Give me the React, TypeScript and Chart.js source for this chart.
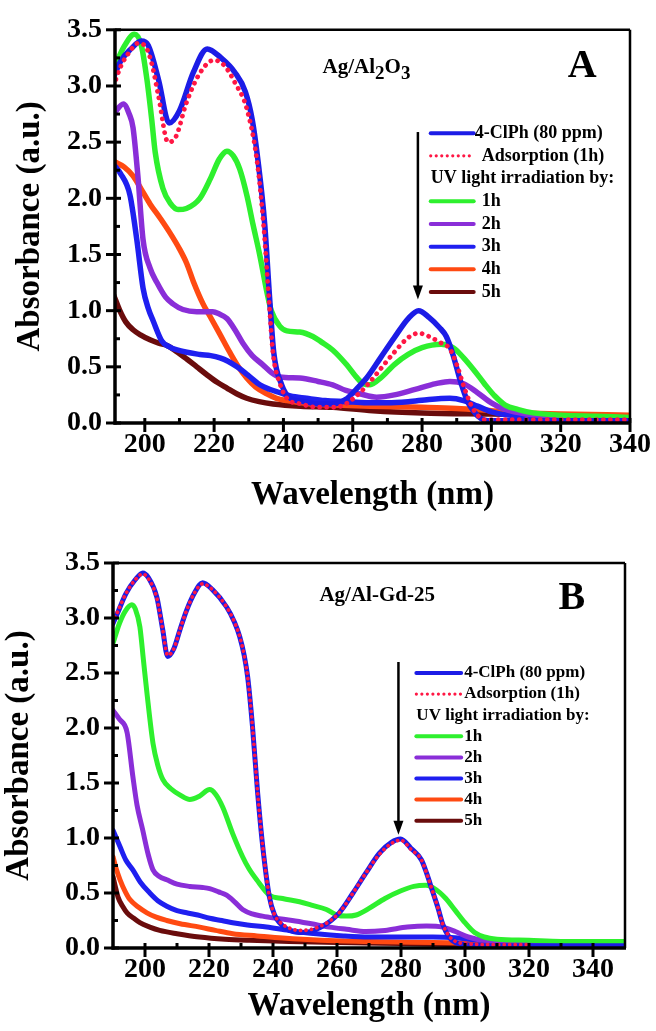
import React, { useEffect, useRef } from 'react';
import { Chart, registerables } from 'chart.js';

Chart.register(...registerables);

const SERIF = '"Liberation Serif", "Times New Roman", serif';

// ---------- colours ----------
const C_CLPH = '#1c1ce6';
const C_ADS = '#ff1744';
const C_H1 = '#2ef02e';
const C_H2 = '#8a2ed8';
const C_H3 = '#1f1ff0';
const C_H4 = '#ff4a12';
const C_H5 = '#6a0c0c';

// ---------- axis ticks ----------
const xTicks = [200, 220, 240, 260, 280, 300, 320, 340];
const yTicks = [0, 0.5, 1.0, 1.5, 2.0, 2.5, 3.0, 3.5];

// ---------- Panel A : Ag/Al2O3 ----------
const aClphX = [191, 193, 196, 199, 201, 204, 207, 210, 214, 218, 222, 226, 229, 231, 232.6, 234.6, 236, 237.2, 239.5, 242, 246, 250, 254, 258, 261, 264, 268, 272, 276, 279, 282, 285, 287, 289, 291, 293, 295, 297, 299, 310, 320, 330, 340];
const aClphY = [3.08, 3.22, 3.33, 3.40, 3.36, 3.05, 2.67, 2.78, 3.12, 3.33, 3.25, 3.12, 2.95, 2.70, 2.35, 1.77, 1.12, 0.63, 0.34, 0.22, 0.19, 0.17, 0.17, 0.21, 0.30, 0.40, 0.58, 0.76, 0.93, 1.00, 0.94, 0.85, 0.77, 0.60, 0.38, 0.20, 0.10, 0.04, 0.02, 0.02, 0.02, 0.02, 0.02];

const aAdsX = [191, 193, 195.5, 198, 200, 202, 204, 206.7, 209, 212, 216, 220, 223, 226, 229.4, 232.3, 234.3, 235.8, 237, 239, 241, 245, 250, 255, 258, 261, 264, 268, 272, 276, 279, 282, 285, 288, 290, 292, 294, 296, 298, 300, 320, 340];
const aAdsY = [3.00, 3.17, 3.30, 3.38, 3.36, 3.20, 2.90, 2.50, 2.55, 2.85, 3.12, 3.23, 3.18, 3.03, 2.80, 2.35, 1.75, 1.10, 0.62, 0.35, 0.22, 0.17, 0.14, 0.14, 0.17, 0.24, 0.33, 0.48, 0.63, 0.76, 0.80, 0.77, 0.72, 0.66, 0.52, 0.33, 0.17, 0.07, 0.03, 0.03, 0.03, 0.03];

const aH1X = [191, 194, 197, 199, 200.6, 202, 203, 205.2, 207.5, 209.6, 212, 215.9, 219, 221.5, 223.7, 225.5, 227.4, 229.5, 231.2, 233.2, 235.2, 236.5, 239, 241, 244.7, 248.5, 251, 254.2, 258.2, 261, 263, 265, 268, 272, 276, 280, 285.5, 289, 292, 295, 298, 301, 304, 307.8, 312, 320, 330, 340];
const aH1Y = [3.15, 3.35, 3.46, 3.36, 3.06, 2.70, 2.41, 2.09, 1.95, 1.90, 1.91, 2.00, 2.18, 2.35, 2.42, 2.38, 2.26, 2.02, 1.77, 1.49, 1.17, 1.00, 0.86, 0.82, 0.81, 0.77, 0.72, 0.65, 0.52, 0.41, 0.35, 0.34, 0.40, 0.52, 0.61, 0.67, 0.70, 0.67, 0.58, 0.47, 0.35, 0.24, 0.16, 0.12, 0.09, 0.07, 0.06, 0.05];

const aH2X = [191, 193.8, 195.5, 196.6, 198, 199.5, 201.5, 203.5, 206, 208.1, 211, 215, 219.6, 221.5, 223.7, 226, 228.3, 231, 234, 236.5, 239, 244.7, 250, 254.2, 258, 262, 266.9, 272, 278, 284, 288, 292, 296, 300, 304, 310, 320, 340];
const aH2Y = [2.75, 2.84, 2.75, 2.63, 2.20, 1.63, 1.38, 1.25, 1.12, 1.06, 1.01, 0.99, 0.99, 0.97, 0.93, 0.83, 0.71, 0.60, 0.52, 0.45, 0.41, 0.40, 0.37, 0.34, 0.29, 0.26, 0.23, 0.25, 0.30, 0.35, 0.37, 0.35, 0.27, 0.18, 0.12, 0.08, 0.06, 0.04];

const aH3X = [191, 193, 195.7, 197.7, 199.5, 201, 202.4, 204.9, 207, 209.3, 215.9, 219, 221.7, 224, 226.6, 230, 233.2, 236, 239, 242, 246.7, 252, 258, 264, 270, 276, 282, 288, 292, 296, 300, 305, 312, 320, 340];
const aH3Y = [2.30, 2.22, 2.03, 1.63, 1.20, 1.02, 0.91, 0.73, 0.68, 0.65, 0.61, 0.60, 0.58, 0.55, 0.50, 0.42, 0.34, 0.30, 0.27, 0.24, 0.22, 0.20, 0.19, 0.18, 0.18, 0.19, 0.21, 0.22, 0.20, 0.15, 0.10, 0.07, 0.05, 0.04, 0.03];

const aH4X = [191, 194, 196.6, 199, 201.5, 204.5, 207.3, 210, 212.1, 214, 216.8, 218.8, 221.5, 224.5, 227, 229.4, 232, 235.2, 238, 241, 248, 255, 265, 280, 290, 300, 310, 320, 340];
const aH4Y = [2.33, 2.28, 2.20, 2.08, 1.95, 1.82, 1.69, 1.55, 1.42, 1.26, 1.06, 0.95, 0.80, 0.63, 0.50, 0.40, 0.32, 0.26, 0.22, 0.20, 0.17, 0.16, 0.15, 0.14, 0.13, 0.11, 0.09, 0.08, 0.07];

const aH5X = [191, 192.8, 194.5, 196.6, 199, 201.5, 204, 206.4, 209, 212.1, 215, 217.9, 221, 223.7, 226.5, 229.4, 233, 237, 245, 254.2, 265.8, 280, 300, 320, 340];
const aH5Y = [1.14, 1.00, 0.90, 0.83, 0.78, 0.74, 0.71, 0.69, 0.64, 0.57, 0.50, 0.43, 0.36, 0.31, 0.26, 0.22, 0.19, 0.17, 0.15, 0.14, 0.11, 0.09, 0.08, 0.07, 0.06];

// ---------- Panel B : Ag/Al-Gd-25 ----------
const bClphX = [190, 191.5, 194, 197, 199.3, 201, 203.7, 205.5, 207.1, 209, 211, 213, 215.5, 218, 221, 225.5, 228, 229.6, 231, 232.1, 233.6, 235.2, 236.8, 238.9, 240.5, 242, 246.1, 249.2, 255, 260.7, 265, 269, 273.2, 277, 279.9, 283, 286.4, 288, 289.7, 291.5, 293, 295, 297, 300, 310, 320, 350];
const bClphY = [2.95, 3.05, 3.22, 3.35, 3.41, 3.37, 3.19, 2.90, 2.65, 2.72, 2.90, 3.07, 3.23, 3.32, 3.26, 3.10, 2.96, 2.83, 2.66, 2.46, 2.01, 1.41, 0.92, 0.46, 0.30, 0.23, 0.15, 0.14, 0.19, 0.32, 0.50, 0.68, 0.86, 0.96, 0.99, 0.91, 0.80, 0.68, 0.53, 0.37, 0.22, 0.10, 0.05, 0.03, 0.02, 0.02, 0.02];

const bAdsX = [190, 191.5, 194, 197, 199.3, 201, 203.7, 205.5, 207.1, 209, 211, 213, 215.5, 218, 221, 225.5, 228, 229.6, 231, 232.1, 233.6, 235.2, 236.8, 238.9, 240.5, 242, 246.1, 249.2, 255, 260.7, 265, 269, 273.2, 277, 279.9, 283, 286.4, 288, 289.7, 291.5, 293, 295, 297, 300, 310, 320];
const bAdsY = [2.96, 3.06, 3.22, 3.35, 3.40, 3.36, 3.18, 2.90, 2.66, 2.72, 2.90, 3.07, 3.23, 3.31, 3.26, 3.10, 2.96, 2.83, 2.66, 2.46, 2.01, 1.41, 0.92, 0.46, 0.30, 0.24, 0.17, 0.16, 0.20, 0.32, 0.50, 0.68, 0.85, 0.95, 0.98, 0.90, 0.80, 0.68, 0.53, 0.37, 0.22, 0.11, 0.06, 0.04, 0.03, 0.03];

const bH1X = [190, 192, 194, 195.9, 197, 198.4, 199.5, 200.6, 202.5, 204, 205.6, 208, 211, 214, 217, 220.2, 222, 224.3, 227.4, 230.5, 232.5, 234.9, 238.9, 243, 248.3, 252, 256.7, 260, 262.9, 266, 270, 275, 280, 284, 287.8, 291, 294, 297, 300, 303, 306, 310, 320, 330, 350];
const bH1Y = [2.77, 2.95, 3.07, 3.12, 3.08, 2.92, 2.62, 2.32, 1.86, 1.66, 1.53, 1.45, 1.39, 1.35, 1.38, 1.44, 1.40, 1.28, 1.04, 0.83, 0.72, 0.62, 0.48, 0.45, 0.42, 0.39, 0.35, 0.30, 0.29, 0.30, 0.36, 0.45, 0.52, 0.56, 0.57, 0.53, 0.45, 0.34, 0.23, 0.14, 0.10, 0.08, 0.07, 0.06, 0.06];

const bH2X = [190, 192, 194.4, 196.2, 197.5, 199.3, 201, 202.5, 204.5, 206.8, 210, 214, 218, 220.2, 223, 225.5, 228, 230.5, 233.5, 236.7, 241, 246, 252, 257.6, 263, 269, 275, 282, 288, 293, 297, 301, 306, 315, 330, 350];
const bH2Y = [2.16, 2.08, 1.96, 1.56, 1.30, 1.07, 0.85, 0.71, 0.65, 0.62, 0.58, 0.56, 0.55, 0.54, 0.51, 0.48, 0.42, 0.35, 0.31, 0.29, 0.27, 0.25, 0.22, 0.19, 0.17, 0.15, 0.16, 0.19, 0.20, 0.19, 0.15, 0.10, 0.07, 0.06, 0.05, 0.05];

const bH3X = [190, 192.2, 194, 196.2, 198.5, 201.5, 204, 206.8, 210, 213, 216.5, 220.2, 224, 227.4, 232, 238, 245, 253.6, 262, 270, 280, 290, 298, 305, 315, 330, 350];
const bH3Y = [1.07, 0.92, 0.80, 0.71, 0.60, 0.50, 0.43, 0.38, 0.34, 0.32, 0.30, 0.27, 0.25, 0.23, 0.21, 0.19, 0.16, 0.13, 0.11, 0.10, 0.10, 0.10, 0.09, 0.07, 0.06, 0.05, 0.05];

const bH4X = [190, 191, 192.2, 193.7, 195.3, 198, 200.6, 203.5, 206.8, 211, 217.1, 222, 227.4, 235, 243, 255, 270, 290, 310, 330, 350];
const bH4Y = [0.83, 0.72, 0.62, 0.52, 0.44, 0.37, 0.32, 0.28, 0.25, 0.22, 0.19, 0.16, 0.13, 0.11, 0.09, 0.07, 0.06, 0.05, 0.04, 0.03, 0.03];

const bH5X = [190, 190.8, 191.6, 193, 194.4, 196.5, 198.4, 201.5, 204.6, 210, 217, 225, 232.7, 245, 260, 280, 300, 325, 350];
const bH5Y = [0.65, 0.55, 0.46, 0.38, 0.32, 0.27, 0.23, 0.19, 0.16, 0.13, 0.10, 0.08, 0.07, 0.06, 0.05, 0.04, 0.03, 0.02, 0.02];

const seriesLabels = ['4-ClPh (80 ppm)', 'Adsorption (1h)', '1h', '2h', '3h', '4h', '5h'];
const legendHeader = 'UV light irradiation by:';

type Series = { label: string; x: number[]; y: number[]; color: string; dotted?: boolean };

const seriesA: Series[] = [
  { label: seriesLabels[0], x: aClphX, y: aClphY, color: C_CLPH },
  { label: seriesLabels[1], x: aAdsX, y: aAdsY, color: C_ADS, dotted: true },
  { label: seriesLabels[2], x: aH1X, y: aH1Y, color: C_H1 },
  { label: seriesLabels[3], x: aH2X, y: aH2Y, color: C_H2 },
  { label: seriesLabels[4], x: aH3X, y: aH3Y, color: C_H3 },
  { label: seriesLabels[5], x: aH4X, y: aH4Y, color: C_H4 },
  { label: seriesLabels[6], x: aH5X, y: aH5Y, color: C_H5 },
];

const seriesB: Series[] = [
  { label: seriesLabels[0], x: bClphX, y: bClphY, color: C_CLPH },
  { label: seriesLabels[1], x: bAdsX, y: bAdsY, color: C_ADS, dotted: true },
  { label: seriesLabels[2], x: bH1X, y: bH1Y, color: C_H1 },
  { label: seriesLabels[3], x: bH2X, y: bH2Y, color: C_H2 },
  { label: seriesLabels[4], x: bH3X, y: bH3Y, color: C_H3 },
  { label: seriesLabels[5], x: bH4X, y: bH4Y, color: C_H4 },
  { label: seriesLabels[6], x: bH5X, y: bH5Y, color: C_H5 },
];

const decorPlugin = {
  id: 'decor',
  afterDatasetsDraw(chart: any, _args: any, o: any) {
    const { ctx, chartArea: ca, scales } = chart;
    const xs = scales.x;
    const ys = scales.y;
    const seg = (x1: number, y1: number, x2: number, y2: number) => {
      ctx.beginPath();
      ctx.moveTo(x1, y1);
      ctx.lineTo(x2, y2);
      ctx.stroke();
    };
    ctx.save();
    ctx.strokeStyle = '#000';
    ctx.fillStyle = '#000';
    ctx.lineCap = 'butt';
    // frame
    ctx.lineWidth = 2.5;
    seg(ca.left, ca.top, ca.right, ca.top);
    seg(ca.right, ca.top, ca.right, ca.bottom);
    ctx.lineWidth = 3.5;
    seg(ca.left, ca.top - 1, ca.left, ca.bottom + 1.5);
    seg(ca.left - 1.5, ca.bottom, ca.right + 1, ca.bottom);
    // ticks
    ctx.lineWidth = 3;
    xTicks.forEach((v, i) => {
      const px = xs.getPixelForValue(v);
      seg(px, ca.bottom - 5, px, ca.bottom + 9);
      const m = i < xTicks.length - 1 ? (v + xTicks[i + 1]) / 2 : null;
      if (m !== null && m < xs.max) {
        const pm = xs.getPixelForValue(m);
        seg(pm, ca.bottom - 5, pm, ca.bottom);
      }
    });
    yTicks.forEach((v, i) => {
      const py = ys.getPixelForValue(v);
      seg(ca.left - 9, py, ca.left + 6, py);
      if (i < yTicks.length - 1) {
        const pm = ys.getPixelForValue((v + yTicks[i + 1]) / 2);
        seg(ca.left, pm, ca.left + 5, pm);
      }
    });

    // sample label with optional subscripts
    ctx.textBaseline = 'middle';
    ctx.textAlign = 'left';
    let tx = xs.getPixelForValue(o.sample.x);
    const ty = ys.getPixelForValue(o.sample.y);
    o.sample.parts.forEach((p: [string, boolean]) => {
      ctx.font = `bold ${p[1] ? o.sample.subSize : o.sample.size}px ${SERIF}`;
      ctx.fillText(p[0], tx, ty + (p[1] ? 6 : 0));
      tx += ctx.measureText(p[0]).width;
    });
    // panel letter
    ctx.textAlign = 'center';
    ctx.font = `bold ${o.letter.size}px ${SERIF}`;
    ctx.fillText(o.letter.text, xs.getPixelForValue(o.letter.x), ys.getPixelForValue(o.letter.y));

    // arrow
    const ax = xs.getPixelForValue(o.arrow.x);
    const aTop = ys.getPixelForValue(o.arrow.top);
    const aTip = ys.getPixelForValue(o.arrow.tip);
    ctx.lineWidth = 2.5;
    seg(ax, aTop, ax, aTip - 10);
    ctx.beginPath();
    ctx.moveTo(ax - 5, aTip - 14);
    ctx.lineTo(ax + 5, aTip - 14);
    ctx.lineTo(ax, aTip);
    ctx.closePath();
    ctx.fill();

    // legend
    const lg = o.legend;
    const lx0 = xs.getPixelForValue(lg.x0);
    const lx1 = xs.getPixelForValue(lg.x1);
    const ly0 = ys.getPixelForValue(lg.y0);
    ctx.textAlign = 'left';
    ctx.font = `bold ${lg.size}px ${SERIF}`;
    const ds = chart.data.datasets;
    const rows: any[] = [
      { ds: ds[0], gap: lg.gap0 },
      { ds: ds[1], gap: lg.gap },
      { header: true },
      ...ds.slice(2).map((d: any) => ({ ds: d, gap: lg.gap })),
    ];
    rows.forEach((r, i) => {
      const yy = ly0 + i * lg.rowH;
      ctx.fillStyle = '#000';
      if (r.header) {
        ctx.fillText(legendHeader, lx0 + lg.headerGap, yy);
        return;
      }
      ctx.strokeStyle = r.ds.borderColor;
      if (r.ds.borderDash && r.ds.borderDash.length) {
        ctx.lineWidth = 3.2;
        ctx.lineCap = 'round';
        ctx.setLineDash([0.01, 5.5]);
      } else {
        ctx.lineWidth = 4;
        ctx.lineCap = 'round';
        ctx.setLineDash([]);
      }
      seg(lx0, yy, lx1, yy);
      ctx.setLineDash([]);
      ctx.fillText(r.ds.label, lx1 + r.gap, yy);
    });
    ctx.restore();
  },
};

function buildConfig(series: Series[], p: any) {
  const datasets = series.map((s, i) => ({
    label: s.label,
    data: s.x.map((x, k) => ({ x, y: s.y[k] })),
    borderColor: s.color,
    backgroundColor: s.color,
    borderWidth: s.dotted ? p.dotWidth : p.lineWidth,
    borderDash: s.dotted ? [0.01, p.dotGap] : [],
    borderCapStyle: 'round',
    borderJoinStyle: 'round',
    pointRadius: 0,
    cubicInterpolationMode: 'monotone',
    fill: false,
    order: s.dotted ? 0 : i + 1,
  }));
  const tickFont = { family: SERIF, size: p.tickSize, weight: 'bold' };
  const titleFont = { family: SERIF, size: 33, weight: 'bold', lineHeight: 1.2 };
  return {
    type: 'line',
    data: { datasets },
    plugins: [decorPlugin],
    options: {
      responsive: false,
      animation: false,
      layout: { padding: { top: p.top, right: p.right, left: 0, bottom: 0 } },
      plugins: {
        legend: { display: false },
        tooltip: { enabled: false },
        decor: p.decor,
      },
      scales: {
        x: {
          type: 'linear',
          min: p.xMin,
          max: p.xMax,
          grid: { display: false, drawTicks: false },
          border: { display: false },
          afterBuildTicks: (s: any) => {
            s.ticks = xTicks.map((v) => ({ value: v }));
          },
          afterFit: (s: any) => {
            s.height = p.xAxisH;
          },
          ticks: {
            font: tickFont,
            color: '#000',
            padding: p.xPad,
            maxRotation: 0,
            autoSkip: false,
            callback: (v: any) => String(v),
          },
          title: {
            display: true,
            text: 'Wavelength (nm)',
            color: '#000',
            font: titleFont,
            padding: { top: 0, bottom: p.xTitlePad },
          },
        },
        y: {
          type: 'linear',
          min: 0,
          max: 3.5,
          grid: { display: false, drawTicks: false },
          border: { display: false },
          afterBuildTicks: (s: any) => {
            s.ticks = yTicks.map((v) => ({ value: v }));
          },
          afterFit: (s: any) => {
            s.width = p.yAxisW;
          },
          ticks: {
            font: tickFont,
            color: '#000',
            padding: 13,
            autoSkip: false,
            callback: (v: any) => Number(v).toFixed(1),
          },
          title: {
            display: true,
            text: 'Absorbance (a.u.)',
            color: '#000',
            font: titleFont,
            padding: { top: p.yTitlePad, bottom: 0 },
          },
        },
      },
    },
  };
}

const paramsA = {
  xMin: 191.4, xMax: 340, top: 16, right: 24, xAxisH: 92, yAxisW: 115,
  xPad: 5, xTitlePad: 0, yTitlePad: 11, tickSize: 28, lineWidth: 5.5, dotWidth: 4.8, dotGap: 7,
  decor: {
    sample: { x: 251.3, y: 3.16, size: 21, subSize: 19, parts: [['Ag/Al', false], ['2', true], ['O', false], ['3', true]] },
    letter: { text: 'A', x: 326.2, y: 3.17, size: 40 },
    arrow: { x: 278.8, top: 2.59, tip: 1.1 },
    legend: { x0: 282.5, x1: 294.9, y0: 2.58, rowH: 22.7, size: 18, gap0: 1, gap: 8, headerGap: 0 },
  },
};

const paramsB = {
  xMin: 190, xMax: 350, top: 48, right: 31, xAxisH: 83, yAxisW: 113,
  xPad: 5, xTitlePad: 5, yTitlePad: 0, tickSize: 28, lineWidth: 5, dotWidth: 3.8, dotGap: 5.5,
  decor: {
    sample: { x: 254.5, y: 3.2, size: 21, subSize: 19, parts: [['Ag/Al-Gd-25', false]] },
    letter: { text: 'B', x: 333.4, y: 3.18, size: 40 },
    arrow: { x: 279.2, top: 2.6, tip: 1.03 },
    legend: { x0: 284.8, x1: 298.8, y0: 2.5, rowH: 21.1, size: 17, gap0: 3, gap: 3, headerGap: 0 },
  },
};

function Panel({ series, params, top, height }: { series: Series[]; params: any; top: number; height: number }) {
  const ref = useRef<HTMLCanvasElement | null>(null);
  useEffect(() => {
    if (!ref.current) return;
    const chart = new Chart(ref.current, buildConfig(series, params) as any);
    return () => chart.destroy();
  }, [series, params]);
  return (
    <canvas
      ref={ref}
      width={656}
      height={height}
      style={{ position: 'absolute', left: 0, top, width: 656, height }}
    />
  );
}

export default function App() {
  return (
    <div style={{ position: 'absolute', left: 0, top: 0, width: 656, height: 1031, background: '#fff', overflow: 'hidden' }}>
      <Panel series={seriesA} params={paramsA} top={0} height={515} />
      <Panel series={seriesB} params={paramsB} top={515} height={516} />
    </div>
  );
}
